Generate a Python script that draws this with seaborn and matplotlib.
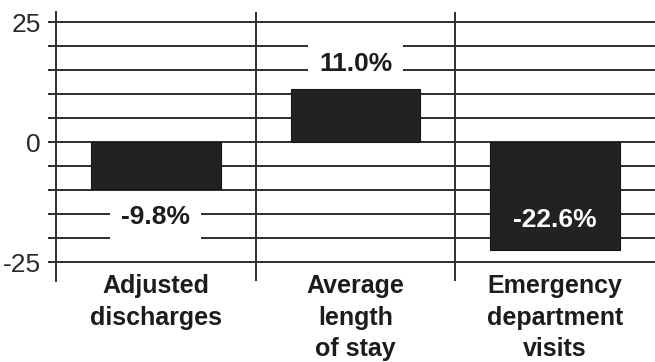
import matplotlib
matplotlib.use("Agg")
import matplotlib.pyplot as plt
import seaborn as sns
import pandas as pd

# Percent change by measure
categories = ["Adjusted\ndischarges", "Average\nlength\nof stay", "Emergency\ndepartment\nvisits"]
values = [-9.8, 11.0, -22.6]
value_labels = ["-9.8%", "11.0%", "-22.6%"]
ytick_values = [-25, -20, -15, -10, -5, 0, 5, 10, 15, 20, 25]
ytick_labels = ["-25", "", "", "", "", "0", "", "", "", "", "25"]

df = pd.DataFrame({"measure": categories, "change": values})

sns.set_style("white")
plt.rcParams["font.family"] = ["Liberation Sans", "DejaVu Sans"]

ink = "#1c1c1c"
line_col = "#2e2e2e"

fig = plt.figure(figsize=(6.55, 3.62), dpi=100)
ax = fig.add_axes([0.0855, 0.2232, 1 - 0.0855, 0.9657 - 0.2232])

sns.barplot(data=df, x="measure", y="change", color="#222222", width=0.65,
            saturation=1, ax=ax, zorder=3, edgecolor="#161616", linewidth=0.8)

ax.set_xlim(-0.5, 2.5)
ax.set_ylim(-29, 27)
ax.set_yticks(ytick_values)
ax.set_yticklabels(ytick_labels)
ax.set_xticks([])
ax.set_xlabel("")
ax.set_ylabel("")

# horizontal rules every 5 points
ax.set_axisbelow(True)
ax.yaxis.grid(True, color=line_col, linewidth=1.4)
ax.tick_params(axis="y", which="major", direction="out", length=6, width=1.4,
               color=line_col, pad=5, labelsize=19, labelcolor="#2a2a2a", left=True)

for side in ["top", "right", "bottom"]:
    ax.spines[side].set_visible(False)
ax.spines["left"].set_color(line_col)
ax.spines["left"].set_linewidth(1.4)

# column separators
for xs in [0.5, 1.5]:
    ax.axvline(xs, color=line_col, linewidth=1.4, zorder=2)

# value labels
label_y = [-15.7, 16.2, -16.3]
for i, (lbl, ly) in enumerate(zip(value_labels, label_y)):
    if i == 2:
        ax.text(i, ly, lbl, ha="center", va="center", fontsize=19,
                fontweight="bold", color="white", zorder=5)
    else:
        ax.text(i, ly, lbl, ha="center", va="center", fontsize=19,
                fontweight="bold", color=ink, zorder=5,
                bbox=dict(boxstyle="square,pad=0.42", facecolor="white",
                          edgecolor="none"))

# category names under each column
for i, name in enumerate(categories):
    ax.text(i, -27.6, name, ha="center", va="top", fontsize=18,
            fontweight="bold", color=ink, linespacing=1.38, clip_on=False)

fig.savefig("out.png", dpi=100)
